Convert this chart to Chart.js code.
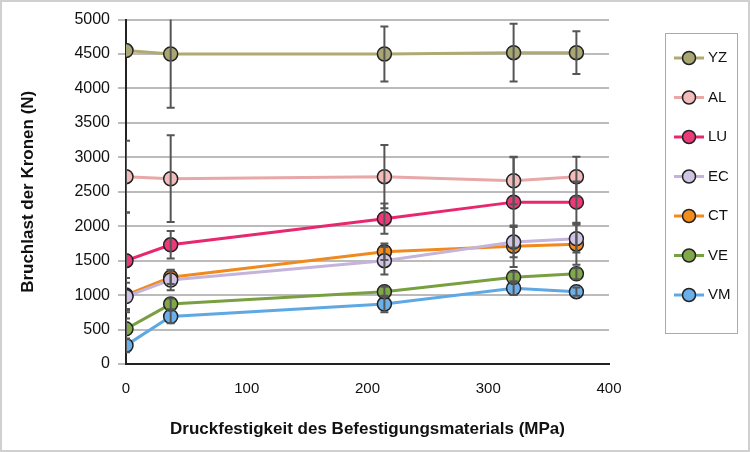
<!DOCTYPE html>
<html><head><meta charset="utf-8">
<script src="https://cdn.jsdelivr.net/npm/chart.js@4"></script>
<style>body{margin:0;background:#fff}#wrap{width:746px;height:448px;border:2px solid #d0d0d0}</style>
</head><body><div id="wrap"><canvas id="c"></canvas></div>
<script>
const xs = [0, 37, 214, 321, 373];
const names = ['YZ', 'AL', 'LU', 'EC', 'CT', 'VE', 'VM'];
const yz = [4550, 4500, 4500, 4520, 4520];
const al = [2720, 2690, 2720, 2660, 2720];
const lu = [1500, 1730, 2110, 2350, 2350];
const ec = [980, 1220, 1500, 1770, 1820];
const ct = [1000, 1260, 1630, 1710, 1740];
const ve = [510, 870, 1050, 1260, 1310];
const vm = [270, 690, 870, 1100, 1050];
// +/- standard deviations
const yzErr = [0, 780, 400, 420, 310];
const alErr = [520, 630, 460, 340, 290];
const luErr = [700, 200, 220, 660, 300];
const ecErr = [200, 150, 200, 220, 200];
const ctErr = [250, 100, 120, 300, 300];
const veErr = [150, 80, 70, 80, 80];
const vmErr = [100, 100, 120, 100, 60];
const lineCols = ['#b0aa72', '#e8a8a8', '#e8286e', '#c4b4dc', '#f08a1e', '#78a040', '#5ea8e4'];
const fillCols = ['#a8a672', '#f2bcbc', '#ea3a78', '#d0c4e4', '#f48c1c', '#80a848', '#6cb0ea'];
const vals = [yz, al, lu, ec, ct, ve, vm];
const errs = [yzErr, alErr, luErr, ecErr, ctErr, veErr, vmErr];

const extras = {
    id: 'extras',
    afterDatasetsDraw(chart) {
        const c = chart.ctx, x = chart.scales.x, y = chart.scales.y;
        c.save();
        c.beginPath();
        c.rect(chart.chartArea.left, chart.chartArea.top, chart.chartArea.width, chart.chartArea.height);
        c.clip();
        c.strokeStyle = '#555';
        c.lineWidth = 2;
        vals.forEach((v, i) => {
            v.forEach((val, j) => {
                const e = errs[i][j];
                if (!e) return;
                const px = x.getPixelForValue(xs[j]);
                const t = y.getPixelForValue(val + e), b = y.getPixelForValue(val - e);
                c.beginPath();
                c.moveTo(px, t); c.lineTo(px, b);
                c.moveTo(px - 4, t); c.lineTo(px + 4, t);
                c.moveTo(px - 4, b); c.lineTo(px + 4, b);
                c.stroke();
            });
        });
        c.restore();
    },
    afterDraw(chart) {
        // legend drawn by hand so the line runs through the marker, like the original
        const c = chart.ctx;
        c.save();
        c.strokeStyle = '#aaa';
        c.lineWidth = 1;
        c.strokeRect(663.5, 31.5, 72, 300);
        c.font = '15px Liberation Sans, Arial';
        c.textBaseline = 'middle';
        names.forEach((n, i) => {
            const ly = 56 + i * 39.5;
            c.strokeStyle = lineCols[i];
            c.lineWidth = 3;
            c.beginPath(); c.moveTo(672, ly); c.lineTo(702, ly); c.stroke();
            c.beginPath(); c.arc(687, ly, 6.5, 0, Math.PI * 2);
            c.fillStyle = fillCols[i]; c.fill();
            c.strokeStyle = '#222'; c.lineWidth = 1.5; c.stroke();
            c.fillStyle = '#111';
            c.fillText(n, 706, ly);
        });
        c.restore();
    }
};

new Chart(document.getElementById('c'), {
    type: 'line',
    data: {
        datasets: names.map((n, i) => ({
            label: n,
            data: xs.map((x, j) => ({ x: x, y: vals[i][j] })),
            borderColor: lineCols[i],
            backgroundColor: fillCols[i],
            pointBackgroundColor: fillCols[i],
            pointBorderColor: '#222',
            pointBorderWidth: 1.5,
            pointRadius: 7,
            borderWidth: 3,
            tension: 0
        }))
    },
    plugins: [extras],
    options: {
        animation: false,
        maintainAspectRatio: false,
        layout: { padding: { top: 16, right: 139, bottom: 6, left: 12 } },
        plugins: { legend: { display: false }, tooltip: { enabled: false } },
        scales: {
            x: {
                type: 'linear', min: 0, max: 400,
                afterFit: (s) => { s.height = 80; },
                ticks: { stepSize: 100, color: '#111', padding: 8, font: { family: 'Liberation Sans, Arial', size: 15 },
                    callback: (v) => String(v) },
                grid: { display: false },
                border: { color: '#222', width: 2 },
                title: { display: true, text: 'Druckfestigkeit des Befestigungsmaterials (MPa)', color: '#111',
                    padding: { top: 10 },
                    font: { family: 'Liberation Sans, Arial', size: 17, weight: 'bold' } }
            },
            y: {
                min: 0, max: 5000,
                afterFit: (s) => { s.width = 112; },
                ticks: { stepSize: 500, color: '#111', padding: 8, font: { family: 'Liberation Sans, Arial', size: 16 },
                    callback: (v) => String(v) },
                grid: { color: '#bbb', lineWidth: 2 },
                border: { color: '#222', width: 2 },
                title: { display: true, text: 'Bruchlast der Kronen (N)', color: '#111',
                    font: { family: 'Liberation Sans, Arial', size: 17, weight: 'bold' } }
            }
        }
    }
});
</script></body></html>
